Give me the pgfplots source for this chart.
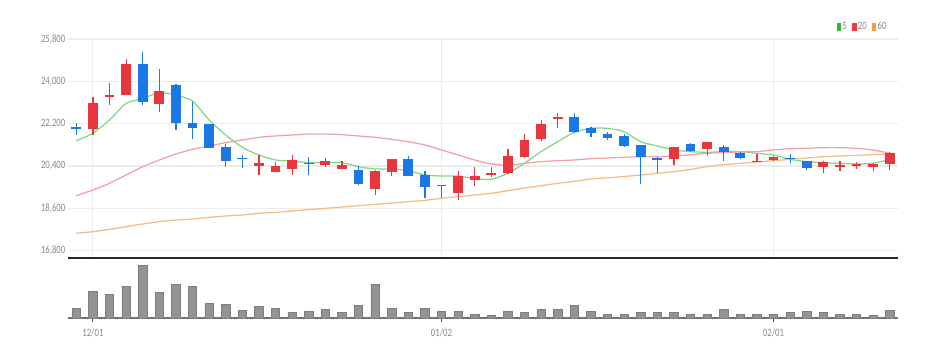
\documentclass[border=0pt]{standalone}
\usepackage{pgfplots}
\usepackage{pgfplotstable}
\pgfplotsset{compat=1.18}
\usepackage{fontspec}
\setmainfont{Carlito}[FakeStretch=0.78]

\definecolor{cred}{HTML}{E8363C}
\definecolor{cblue}{HTML}{1A78E6}
\definecolor{ma5}{HTML}{86D68A}
\definecolor{ma20}{HTML}{F2A2A5}
\definecolor{ma60}{HTML}{F7BB85}
\definecolor{lg5}{HTML}{2DB83A}
\definecolor{lg20}{HTML}{EE3B3B}
\definecolor{lg60}{HTML}{F59B3F}
\definecolor{tickgray}{HTML}{8A8A8A}
\definecolor{gridc}{HTML}{ECECEC}
\definecolor{volc}{HTML}{939393}
\definecolor{voledge}{HTML}{7E7E7E}

% rising candles (red): x open close high low
\pgfplotstableread{
x o c h l
1 21988 23094 23320 21705
2 23334 23405 23915 22980
3 23419 24751 24936 23405
5 23023 23575 24511 22697
11 20415 20543 20855 20019
12 20146 20401 20557 20146
13 20274 20670 20869 20019
15 20430 20600 20741 20373
16 20288 20458 20600 20274
18 19409 20203 20245 19154
19 20160 20685 20685 19990
23 19239 19990 20203 18942
24 19820 19962 20344 19551
25 20005 20090 20373 19919
26 20090 20841 21138 20075
27 20784 21507 21747 20727
28 21563 22187 22343 21464
29 22399 22470 22668 22031
36 20685 21195 21195 20444
38 21124 21407 21436 20826
41 20560 20600 20897 20560
42 20656 20798 20841 20614
45 20373 20586 20628 20090
46 20373 20430 20628 20203
47 20415 20486 20557 20288
48 20359 20486 20515 20203
49 20486 20940 21011 20231
}\upc

% falling candles (blue): x open close high low
\pgfplotstableread{
x o c h l
0 22045 21960 22243 21719
4 24723 23122 25233 22980
6 23830 22215 23872 21917
7 22229 22017 23136 21563
8 22172 21181 22172 21181
9 21195 20628 21337 20373
10 20750 20690 20869 20330
14 20550 20490 20798 20005
17 20217 19650 20401 19579
20 20685 19990 20826 19962
21 20033 19494 20203 19027
22 19590 19545 19590 19041
30 22470 21847 22668 21818
31 22031 21818 22060 21620
32 21776 21592 21861 21521
33 21677 21266 21747 21195
34 21294 20770 21294 19622
35 20756 20656 20798 20118
37 21337 21025 21365 20982
39 21223 20982 21280 20628
40 20940 20727 20997 20685
43 20756 20685 20911 20515
44 20614 20316 20614 20231
}\downc

% moving averages
\pgfplotstableread{
x ma5 ma20 ma60
0 21478 19140 17539
1 21790 19381 17610
2 22357 19664 17709
3 23065 20019 17822
4 23263 20373 17936
5 23519 20656 18035
6 23419 20911 18106
7 23164 21110 18148
8 22357 21252 18219
9 21719 21393 18276
10 21195 21507 18318
11 20869 21620 18389
12 20656 21677 18432
13 20614 21719 18488
14 20543 21761 18545
15 20543 21761 18602
16 20543 21733 18658
17 20373 21677 18715
18 20274 21620 18772
19 20274 21535 18828
20 20203 21436 18885
21 20019 21294 18942
22 19976 21082 19027
23 19976 20869 19098
24 19863 20656 19168
25 19835 20486 19239
26 20090 20430 19353
27 20515 20515 19466
28 21011 20586 19565
29 21436 20628 19664
30 21833 20656 19749
31 22003 20713 19850
32 22003 20741 19900
33 21861 20770 19955
34 21436 20798 20019
35 21252 20798 20090
36 21082 20826 20160
37 21011 20883 20259
38 20982 20940 20373
39 21011 20968 20458
40 21011 20997 20515
41 20940 21011 20571
42 20869 21082 20628
43 20685 21138 20685
44 20586 21152 20741
45 20543 21181 20798
46 20515 21181 20826
47 20486 21152 20855
48 20515 21082 20883
49 20680 20940 20911
}\ma

% volume
\pgfplotstableread{
x v
0 30
1 81
2 72
3 96
4 159
5 77
6 101
7 96
8 45
9 42
10 22
11 35
12 30
13 18
14 20
15 27
16 16
17 37
18 101
19 30
20 18
21 30
22 20
23 20
24 10
25 7
26 20
27 17
28 27
29 27
30 37
31 20
32 12
33 12
34 18
35 17
36 17
37 10
38 12
39 25
40 12
41 12
42 12
43 17
44 20
45 17
46 12
47 12
48 7
49 22
}\vol

\begin{document}
\begin{tikzpicture}
\path[use as bounding box, fill=white] (0,0) rectangle (705.75pt,268.5pt);

% price axis
\begin{axis}[
  at={(51pt,75pt)}, anchor=south west,
  width=622.5pt, height=164.25pt, scale only axis,
  xmin=-0.5, xmax=49.5, ymin=16490, ymax=25800,
  enlargelimits=false, clip=false,
  axis x line*=bottom, axis y line*=left,
  x axis line style={line width=1.6pt, color=black!85},
  y axis line style={draw=none},
  xtick={1,22,42}, xticklabels={},
  ytick={16800,18600,20400,22200,24000,25800},
  scaled y ticks=false,
  xmajorgrids, ymajorgrids,
  grid style={gridc, line width=0.8pt},
  major tick length=0pt, tick style={draw=none},
  yticklabel style={font=\fontsize{8.4}{9}\selectfont, text=tickgray, inner xsep=1.8pt,
    /pgf/number format/.cd, fixed, precision=0, 1000 sep={,}, assume math mode=true},
  legend style={at={(1,1)}, anchor=south east, xshift=-7.5pt, yshift=5pt,
    draw=none, fill=none, inner sep=0pt,
    font=\fontsize{8.4}{9}\selectfont, text=tickgray,
    nodes={inner xsep=0.9pt, inner ysep=0.5pt},
    /tikz/every odd column/.append style={column sep=0pt},
    /tikz/every even column/.append style={column sep=3pt}},
  legend columns=3,
]
% moving averages
\addplot[ma5, line width=0.95pt, smooth, tension=0.4,
  legend image code/.code={\fill[lg5] (0pt,-2.6pt) rectangle (2.5pt,2.6pt);}]
  table[x=x, y=ma5] {\ma};
\addlegendentry{5}
\addplot[ma20, line width=0.95pt, smooth, tension=0.4,
  legend image code/.code={\fill[lg20] (0pt,-2.6pt) rectangle (2.5pt,2.6pt);}]
  table[x=x, y=ma20] {\ma};
\addlegendentry{20}
\addplot[ma60, line width=0.95pt, smooth, tension=0.4,
  legend image code/.code={\fill[lg60] (0pt,-2.6pt) rectangle (2.5pt,2.6pt);}]
  table[x=x, y=ma60] {\ma};
\addlegendentry{60}

% wicks
\addplot[forget plot, draw=none, mark=none,
  error bars/.cd, y dir=plus, y explicit, error mark=none,
  error bar style={draw=cred, line width=0.9pt}]
  table[x=x, y=l, y error expr=\thisrow{h}-\thisrow{l}] {\upc};
\addplot[forget plot, draw=none, mark=none,
  error bars/.cd, y dir=plus, y explicit, error mark=none,
  error bar style={draw=cblue, line width=0.9pt}]
  table[x=x, y=l, y error expr=\thisrow{h}-\thisrow{l}] {\downc};
% bodies
\addplot[forget plot, draw=none, mark=none,
  error bars/.cd, y dir=plus, y explicit, error mark=none,
  error bar style={draw=cred, line width=7.4pt}]
  table[x=x, y=o, y error expr=\thisrow{c}-\thisrow{o}] {\upc};
\addplot[forget plot, draw=none, mark=none,
  error bars/.cd, y dir=plus, y explicit, error mark=none,
  error bar style={draw=cblue, line width=7.4pt}]
  table[x=x, y=c, y error expr=\thisrow{o}-\thisrow{c}] {\downc};
\end{axis}

% volume axis
\begin{axis}[
  at={(51pt,30pt)}, anchor=south west,
  width=622.5pt, height=43.5pt, scale only axis,
  xmin=-0.5, xmax=49.5, ymin=0, ymax=174,
  enlargelimits=false,
  axis x line*=bottom, axis y line=none,
  x axis line style={line width=1.3pt, color=black!55},
  xtick={1,22,42}, xticklabels={12/01,01/02,02/01},
  xtick align=outside, major tick length=3.2pt,
  xtick style={draw=black!70, line width=0.8pt},
  ytick=\empty,
  xticklabel style={font=\fontsize{8.4}{9}\selectfont, text=tickgray, yshift=-1.5pt},
]
\addplot[ybar, bar width=6.3pt, bar shift=0pt, fill=volc, draw=voledge, line width=0.5pt]
  table[x=x, y=v] {\vol};
\end{axis}
\end{tikzpicture}
\end{document}
